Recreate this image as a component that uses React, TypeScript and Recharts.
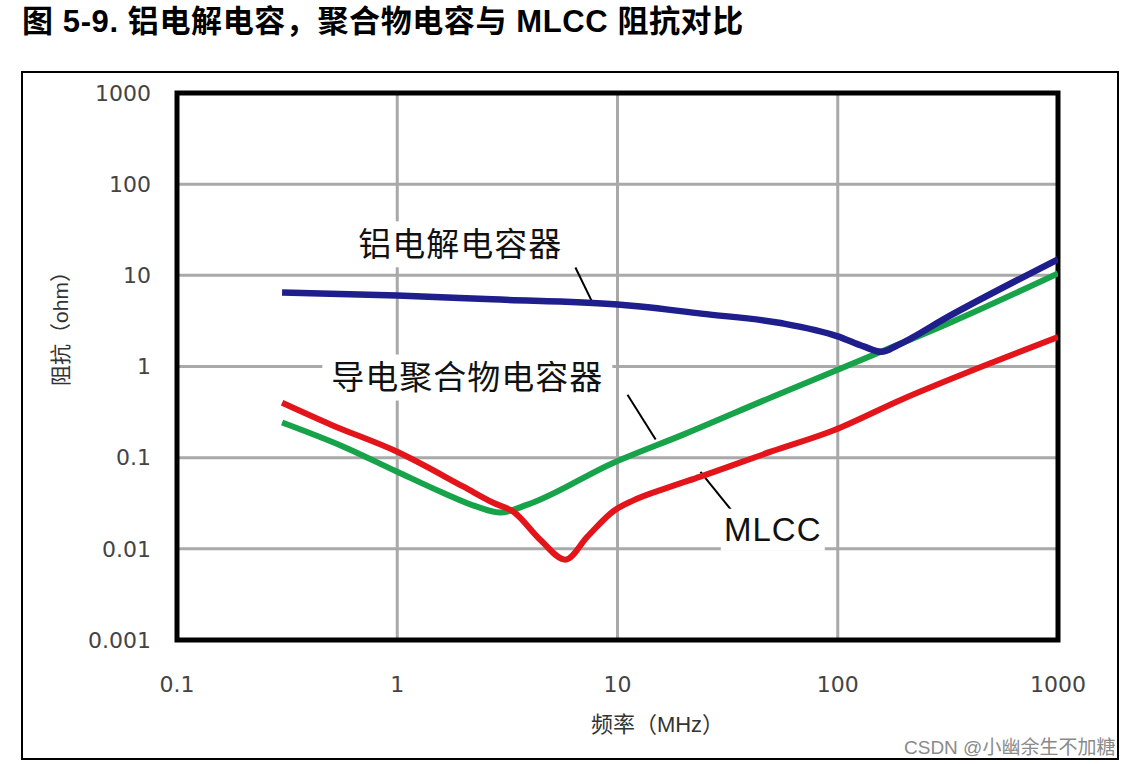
import React from 'react';
import { LineChart, Line, XAxis, YAxis, CartesianGrid, ReferenceLine, ReferenceDot, ReferenceArea, Label } from 'recharts';

// frequency (MHz) / impedance (ohm)
const freqTicks = [0.1, 1, 10, 100, 1000];
const impTicks = [0.001, 0.01, 0.1, 1, 10, 100, 1000];

const alFreq = [0.3, 1, 2.7, 10, 12.7, 24, 55, 100, 131, 158, 186, 316, 1000];
const alZ = [6.5, 6.0, 5.45, 4.8, 4.56, 3.8, 3.0, 2.14, 1.66, 1.45, 1.7, 3.5, 15];

const polyFreq = [0.3, 0.57, 1, 1.62, 2.3, 2.94, 3.9, 9.6, 20, 50, 100, 158, 316, 1000];
const polyZ = [0.243, 0.132, 0.07, 0.041, 0.029, 0.025, 0.0305, 0.088, 0.18, 0.46, 0.92, 1.46, 2.95, 10.5];

const mlccFreq = [0.3, 0.5, 1, 2, 2.73, 3.37, 4.47, 5.8, 7.3, 9.6, 11.8, 16.9, 23.8, 50, 96, 193, 500, 1000];
const mlccZ = [0.4, 0.23, 0.116, 0.048, 0.032, 0.0255, 0.0125, 0.0076, 0.0136, 0.026, 0.034, 0.047, 0.062, 0.117, 0.2, 0.43, 1.1, 2.1];

const toRows = (f: number[], z: number[]) => f.map((v, i) => ({ f: v, z: z[i] }));
const alData = toRows(alFreq, alZ);
const polyData = toRows(polyFreq, polyZ);
const mlccData = toRows(mlccFreq, mlccZ);

const cjk = '"Liberation Sans", Arial, "Noto Sans CJK SC", sans-serif';
const tickFont = '"DejaVu Sans", "Noto Sans CJK SC", sans-serif';

const Callout: React.FC<any> = ({ cx, cy, text, size, boxW, boxH }) => (
  <g>
    <rect x={cx - boxW / 2} y={cy - boxH / 2} width={boxW} height={boxH} fill="#fff" />
    <text x={cx} y={cy} textAnchor="middle" dominantBaseline="central" fontSize={size} fill="#111" fontFamily={cjk} letterSpacing={1}>
      {text}
    </text>
  </g>
);

const App: React.FC = () => {
  return (
    <div style={{ position: 'absolute', left: 0, top: 0, width: 1132, height: 764, background: '#fff', overflow: 'hidden' }}>
      <div style={{ position: 'absolute', left: 22, top: 5, fontSize: 31, lineHeight: '34px', letterSpacing: 0.6, fontWeight: 'bold', fontFamily: cjk, color: '#000', whiteSpace: 'nowrap' }}>
        图 5-9. 铝电解电容，聚合物电容与 MLCC 阻抗对比
      </div>
      <div style={{ position: 'absolute', left: 21, top: 71, width: 1094, height: 685, border: '2px solid #000' }} />
      <div style={{ position: 'absolute', left: 0, top: 0 }}>
        <LineChart width={1132} height={764} margin={{ top: 93, right: 74, bottom: 64, left: 77 }}>
          <CartesianGrid stroke="#a9a9a9" strokeWidth={3} />
          <XAxis
            type="number"
            dataKey="f"
            scale="log"
            domain={[0.1, 1000]}
            ticks={freqTicks}
            allowDataOverflow
            height={60}
            axisLine={false}
            tickLine={false}
            tickSize={0}
            tickMargin={36}
            tick={{ fontSize: 22, fill: '#444', fontFamily: tickFont }}
          >
            <Label value="频率（MHz）" position="bottom" offset={16} dx={40} style={{ fontSize: 22, fill: '#333', fontFamily: cjk }} />
          </XAxis>
          <YAxis
            type="number"
            dataKey="z"
            scale="log"
            domain={[0.001, 1000]}
            ticks={impTicks}
            allowDataOverflow
            width={100}
            axisLine={false}
            tickLine={false}
            tickSize={0}
            tickMargin={26}
            tickFormatter={(v: number) => String(v)}
            tick={{ fontSize: 22, fill: '#444', fontFamily: tickFont }}
          >
            <Label
              content={({ viewBox }: any) => (
                <text
                  transform={`translate(${viewBox.x - 17},${viewBox.y + viewBox.height / 2 - 43}) rotate(-90)`}
                  textAnchor="middle"
                  dominantBaseline="central"
                  fontSize={21}
                  fill="#333"
                  fontFamily={cjk}
                >
                  阻抗（ohm）
                </text>
              )}
            />
          </YAxis>

          <ReferenceDot x={1.93} y={21.9} r={0} ifOverflow="visible" shape={(p: any) => <Callout {...p} text="铝电解电容器" size={33} boxW={220} boxH={46} />} />
          <ReferenceDot x={2.08} y={0.757} r={0} ifOverflow="visible" shape={(p: any) => <Callout {...p} text="导电聚合物电容器" size={33} boxW={290} boxH={46} />} />
          <ReferenceDot x={50.7} y={0.0162} r={0} ifOverflow="visible" shape={(p: any) => <Callout {...p} text="MLCC" size={33} boxW={104} boxH={42} />} />

          <ReferenceLine segment={[{ x: 6.44, y: 12.2 }, { x: 7.69, y: 5.05 }]} stroke="#000" strokeWidth={2} ifOverflow="visible" />
          <ReferenceLine segment={[{ x: 11.1, y: 0.49 }, { x: 14.9, y: 0.158 }]} stroke="#000" strokeWidth={2} ifOverflow="visible" />
          <ReferenceLine segment={[{ x: 23.8, y: 0.07 }, { x: 33.6, y: 0.0249 }]} stroke="#000" strokeWidth={2} ifOverflow="visible" />

          <Line data={polyData} dataKey="z" type="monotone" stroke="#17a34a" strokeWidth={6} dot={false} isAnimationActive={false} />
          <Line data={mlccData} dataKey="z" type="monotone" stroke="#e3151b" strokeWidth={6} dot={false} isAnimationActive={false} />
          <Line data={alData} dataKey="z" type="monotone" stroke="#1e1e8c" strokeWidth={6.5} dot={false} isAnimationActive={false} />

          <ReferenceArea x1={0.1} x2={1000} y1={0.001} y2={1000} fill="none" stroke="#000" strokeWidth={5} ifOverflow="visible" />
        </LineChart>
      </div>
      <div style={{ position: 'absolute', left: 904, top: 732, fontSize: 19, fontFamily: '"Liberation Sans", "Noto Sans CJK SC", sans-serif', color: '#8a8a8a', whiteSpace: 'nowrap' }}>
        CSDN @小幽余生不加糖
      </div>
    </div>
  );
};

export default App;
